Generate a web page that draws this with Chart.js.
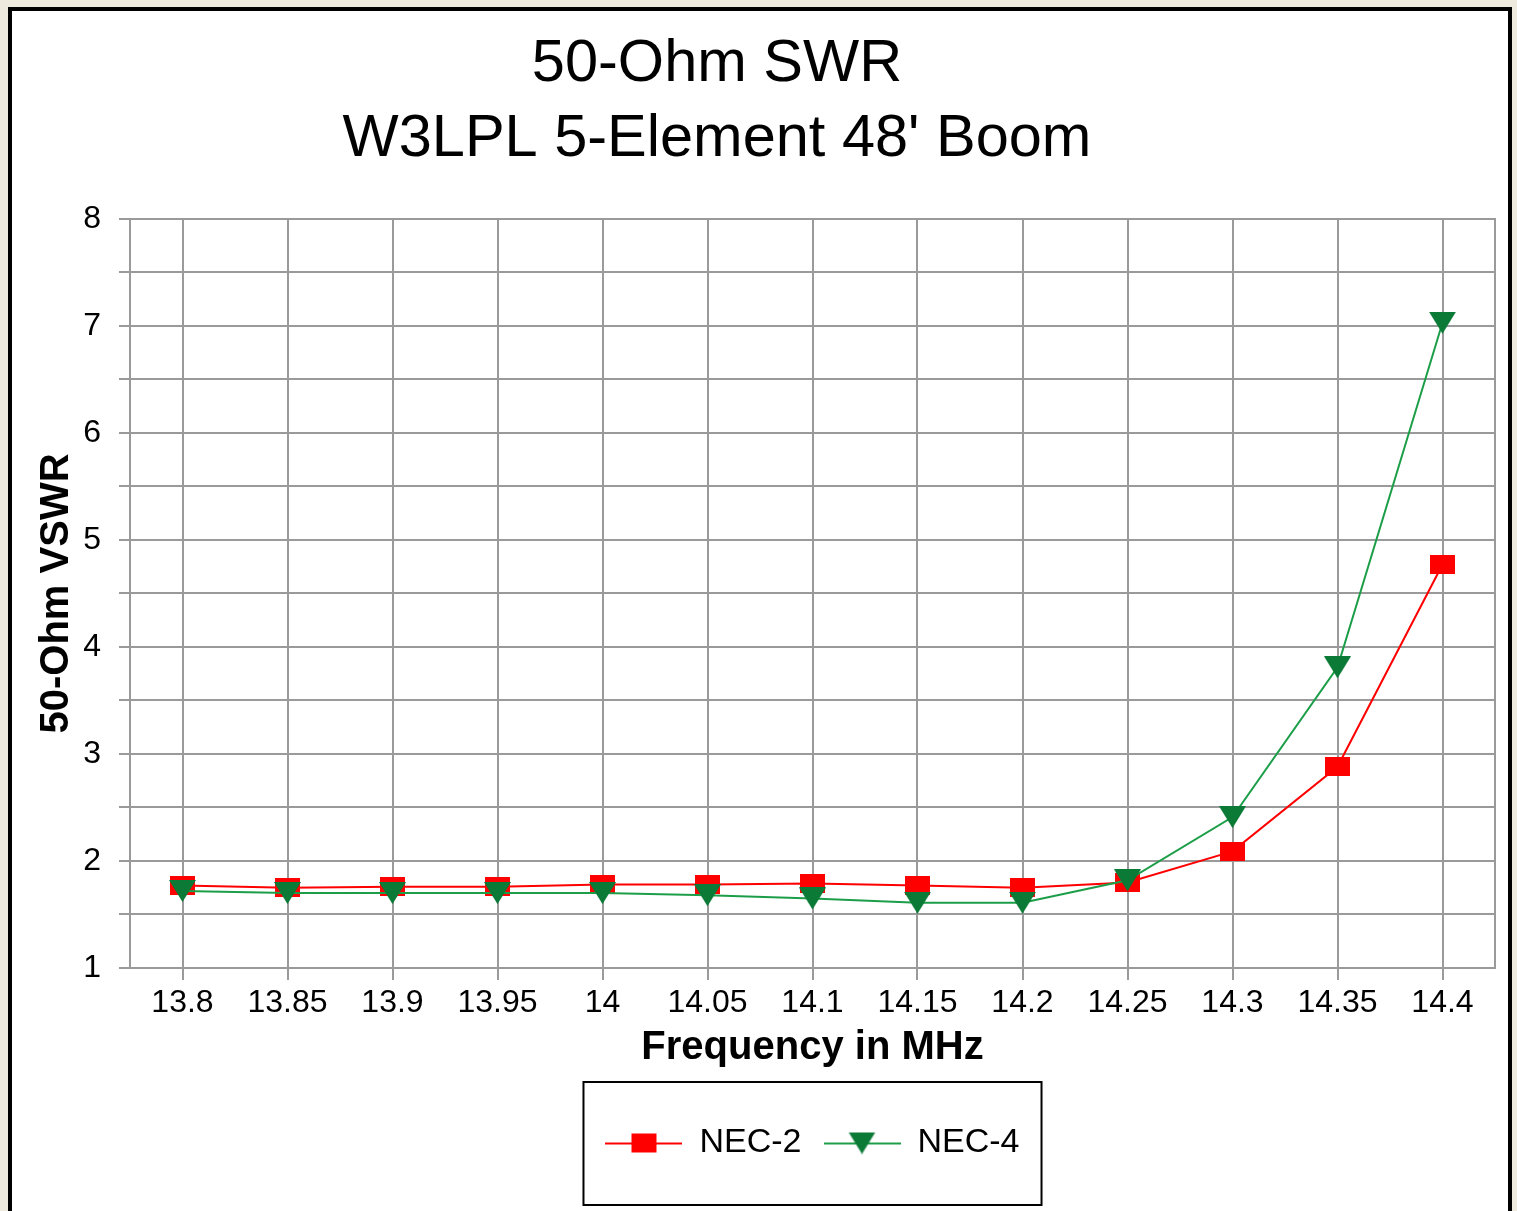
<!DOCTYPE html>
<html>
<head>
<meta charset="utf-8">
<script src="https://cdn.jsdelivr.net/npm/chart.js@4.4.1/dist/chart.umd.min.js"></script>
<style>
    html, body { margin: 0; padding: 0; }
    body { width: 1517px; height: 1211px; overflow: hidden; background: #eeeadd; position: relative; }
    #frame { position: absolute; left: 8px; top: 7px; width: 1496px; height: 1300px; border: 4px solid #000; background: #fff; }
    #chart1 { position: absolute; left: 0; top: 0; }
</style>
</head>
<body>
<div id="frame"></div>
<canvas id="chart1" width="1517" height="1211"></canvas>
<script>
// data
const freqLabels = ['13.8', '13.85', '13.9', '13.95', '14', '14.05', '14.1', '14.15', '14.2', '14.25', '14.3', '14.35', '14.4'];
const nec2Swr = [1.77, 1.75, 1.76, 1.76, 1.78, 1.78, 1.79, 1.77, 1.75, 1.80, 2.09, 2.88, 4.77];
const nec4Swr = [1.72, 1.70, 1.70, 1.70, 1.70, 1.68, 1.65, 1.61, 1.61, 1.82, 2.41, 3.81, 7.03];
const yMin = 1;
const yMax = 8;
const yStep = 0.5;

const FONT = "'Liberation Sans', Arial, sans-serif";
const RED = '#ff0000';
const GREEN_LINE = '#1c9e48';
const GREEN_FILL = '#0a7a36';
const GRID = '#9a9a9a';

function squareMarker(color) {
    const c = document.createElement('canvas');
    c.width = 25; c.height = 19;
    const g = c.getContext('2d');
    g.fillStyle = color;
    g.fillRect(0, 0, 25, 19);
    return c;
}

function triangleMarker(color) {
    const c = document.createElement('canvas');
    c.width = 27; c.height = 22;
    const g = c.getContext('2d');
    g.fillStyle = color;
    g.beginPath();
    g.moveTo(0, 0);
    g.lineTo(27, 0);
    g.lineTo(13.5, 22);
    g.closePath();
    g.fill();
    return c;
}

function legendIcon(marker, lineColor) {
    const c = document.createElement('canvas');
    c.width = 77; c.height = 25;
    const g = c.getContext('2d');
    g.strokeStyle = lineColor;
    g.lineWidth = 2;
    g.beginPath();
    g.moveTo(0, 13);
    g.lineTo(77, 13);
    g.stroke();
    g.drawImage(marker, (77 - marker.width) / 2, (25 - marker.height) / 2);
    return c;
}

const squareImg = squareMarker(RED);
const triImg = triangleMarker(GREEN_FILL);
const legendIcons = [legendIcon(squareImg, RED), legendIcon(triImg, GREEN_LINE)];

// box round the legend, like the excel one
const legendBox = {
    id: 'legendBox',
    afterDraw(chart) {
        const hb = chart.legend.legendHitBoxes;
        if (!hb || !hb.length) return;
        const last = hb[hb.length - 1];
        const left = hb[0].left - 22;
        const right = last.left + last.width + 22;
        const cy = hb[0].top + hb[0].height / 2;
        const ctx = chart.ctx;
        ctx.save();
        ctx.strokeStyle = '#000';
        ctx.lineWidth = 2;
        ctx.strokeRect(left, cy - 61, right - left, 123);
        ctx.restore();
    }
};

// chart title sits a bit left of the plot centre
const titleShift = {
    id: 'titleShift',
    afterLayout(chart) {
        chart.titleBlock.left = 0;
        chart.titleBlock.right = 1434;
    }
};

const ctx1 = document.getElementById('chart1').getContext('2d');

const chart1 = new Chart(ctx1, {
    type: 'line',
    data: {
        labels: freqLabels,
        datasets: [{
            label: 'NEC-2',
            data: nec2Swr,
            borderColor: RED,
            backgroundColor: RED,
            borderWidth: 2,
            pointStyle: squareImg,
            order: 2
        }, {
            label: 'NEC-4',
            data: nec4Swr,
            borderColor: GREEN_LINE,
            backgroundColor: GREEN_FILL,
            borderWidth: 2,
            pointStyle: triImg,
            order: 1
        }]
    },
    options: {
        responsive: false,
        animation: false,
        events: [],
        layout: {
            padding: { left: 20, right: 22, top: 0, bottom: 41 }
        },
        elements: {
            line: { tension: 0, fill: false }
        },
        plugins: {
            title: {
                display: true,
                text: ['50-Ohm SWR', "W3LPL 5-Element 48' Boom"],
                color: '#000',
                font: { family: FONT, size: 59.5, weight: 'normal', lineHeight: 1.26 },
                padding: { top: 27, bottom: 42 }
            },
            legend: {
                position: 'bottom',
                fullSize: false,
                labels: {
                    usePointStyle: true,
                    pointStyleWidth: 77,
                    padding: 22,
                    color: '#000',
                    font: { family: FONT, size: 34 },
                    generateLabels: chart => chart.data.datasets.map((ds, i) => ({
                        text: ds.label,
                        pointStyle: legendIcons[i],
                        fillStyle: ds.borderColor,
                        strokeStyle: ds.borderColor,
                        lineWidth: 0,
                        hidden: false,
                        datasetIndex: i
                    }))
                }
            },
            tooltip: { enabled: false }
        },
        scales: {
            x: {
                type: 'category',
                offset: true,
                afterFit: s => { s.height = 136; },
                grid: { offset: false, color: GRID, lineWidth: 2, tickLength: 12 },
                border: { color: GRID, width: 2 },
                ticks: {
                    autoSkip: false,
                    maxRotation: 0,
                    padding: 4,
                    color: '#000',
                    font: { family: FONT, size: 32 }
                },
                title: {
                    display: true,
                    text: 'Frequency in MHz',
                    color: '#000',
                    font: { family: FONT, size: 40, weight: 'bold' },
                    padding: { top: 0, bottom: 32 }
                }
            },
            y: {
                min: yMin,
                max: yMax,
                afterFit: s => { s.width = 110; },
                grid: { color: GRID, lineWidth: 2, tickLength: 11 },
                border: { color: GRID, width: 2 },
                ticks: {
                    stepSize: yStep,
                    padding: 18,
                    color: '#000',
                    font: { family: FONT, size: 32 },
                    callback: v => Number.isInteger(v) ? v : ''
                },
                title: {
                    display: true,
                    text: '50-Ohm VSWR',
                    color: '#000',
                    font: { family: FONT, size: 40, weight: 'bold' },
                    padding: { top: 13, bottom: 0 }
                }
            },
            yRight: {
                type: 'linear',
                position: 'right',
                min: yMin,
                max: yMax,
                afterFit: s => { s.width = 0; },
                grid: { display: false },
                ticks: { display: false },
                border: { display: true, color: GRID, width: 2 }
            }
        }
    },
    plugins: [legendBox, titleShift]
});
</script>
</body>
</html>
